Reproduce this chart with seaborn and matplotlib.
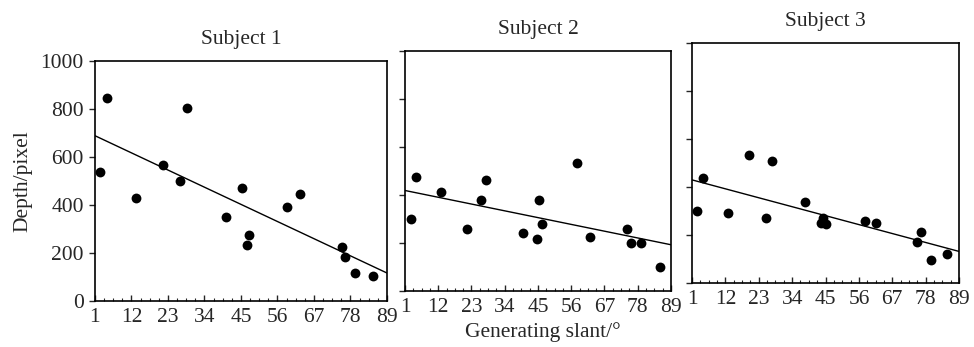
import matplotlib
matplotlib.use("Agg")
import matplotlib.pyplot as plt
import numpy as np
import pandas as pd
import seaborn as sns
from matplotlib.ticker import AutoMinorLocator

# generating slant (deg) and perceived depth (pixel)
s1_slant = [2.5, 4.5, 13.3, 21.4, 26.6, 28.7, 40.4, 45.4, 46.7, 47.5, 59.0, 62.7, 75.3, 76.5, 79.4, 84.9]
s1_depth = [538, 844, 428, 568, 499, 804, 352, 470, 233, 274, 392, 446, 225, 183, 117, 103]

s2_slant = [2.9, 4.7, 13.0, 21.5, 26.0, 27.9, 40.0, 44.8, 45.3, 46.4, 57.8, 62.3, 74.6, 75.9, 79.2, 85.2]
s2_depth = [300, 475, 413, 259, 380, 461, 240, 216, 380, 281, 532, 225, 260, 201, 199, 102]

s3_slant = [2.65, 4.5, 12.9, 19.9, 25.5, 27.4, 38.3, 43.5, 44.2, 45.3, 57.9, 61.5, 75.1, 76.4, 79.8, 85.2]
s3_depth = [301, 439, 290, 535, 271, 510, 337, 252, 270, 246, 257, 250, 172, 211, 97, 121]

subjects = ["Subject 1", "Subject 2", "Subject 3"]
x_ticks = [1, 12, 23, 34, 45, 56, 67, 78, 89]
y_ticks = [0, 200, 400, 600, 800, 1000]

FS = 15.5

sns.set_style("ticks")
plt.rcParams["font.family"] = ["Liberation Serif", "DejaVu Serif"]
plt.rcParams["font.size"] = FS

fig = plt.figure(figsize=(9.74, 3.47), dpi=100)
# panels sit slightly stepped, as in the scanned original
positions = [
    [0.0975, 0.1326, 0.2998, 0.6916],
    [0.4158, 0.1614, 0.2731, 0.6916],
    [0.7105, 0.1844, 0.2741, 0.6916],
]
data = [(s1_slant, s1_depth), (s2_slant, s2_depth), (s3_slant, s3_depth)]

for i, (pos, (xs, ys)) in enumerate(zip(positions, data)):
    ax = fig.add_axes(pos)
    ax.set_xlim(1, 89)
    ax.set_ylim(0, 1000)
    df = pd.DataFrame({"slant": xs, "depth": ys})
    sns.regplot(
        data=df, x="slant", y="depth", ax=ax, ci=None, truncate=False,
        color="black",
        scatter_kws={"s": 50, "linewidths": 0, "alpha": 1},
        line_kws={"lw": 1.0},
    )
    ax.set_xlim(1, 89)
    ax.set_ylim(0, 1000)
    ax.set_xticks(x_ticks)
    ax.set_yticks(y_ticks)
    ax.xaxis.set_minor_locator(AutoMinorLocator(4))
    ax.tick_params(axis="x", which="major", direction="in", length=4, width=1, pad=5, labelsize=FS)
    ax.tick_params(axis="x", which="minor", direction="in", length=2.5, width=0.8)
    ax.tick_params(axis="y", direction="out", length=4, width=1, pad=4, labelsize=FS)
    for sp in ax.spines.values():
        sp.set_visible(True)
        sp.set_linewidth(1.2)
        sp.set_color("black")
    ax.set_title(subjects[i], fontsize=FS, pad=12)
    ax.set_xlabel("")
    ax.set_ylabel("")
    if i == 0:
        ax.set_ylabel("Depth/pixel", fontsize=FS)
        ax.yaxis.set_label_coords(-0.215, 0.5)
    else:
        ax.set_yticklabels([])
    if i == 1:
        ax.set_xlabel("Generating slant/°", fontsize=FS)
        ax.xaxis.set_label_coords(0.519, -0.13)

fig.savefig("out.png", dpi=100)
